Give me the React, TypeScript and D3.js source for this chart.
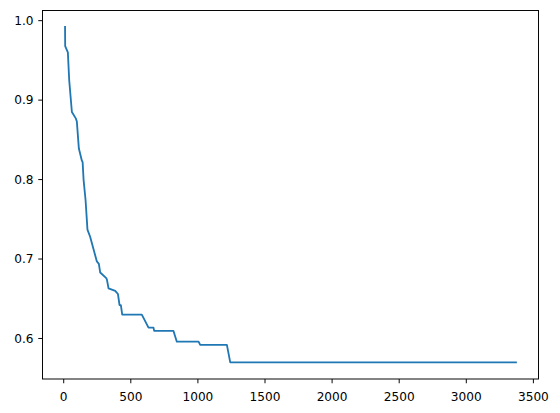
import React from "react";
import * as d3 from "d3";

const xValues = [10, 11, 31, 41, 61, 90, 98, 113, 135, 141, 148, 163, 177, 197, 247, 262, 272, 317, 322, 334, 384, 404, 416, 426, 436, 582, 632, 669, 674, 818, 843, 1005, 1017, 1216, 1241, 3370];
const yValues = [0.992, 0.968, 0.96, 0.925, 0.885, 0.877, 0.873, 0.839, 0.824, 0.822, 0.8, 0.774, 0.737, 0.728, 0.697, 0.694, 0.683, 0.676, 0.674, 0.663, 0.66, 0.656, 0.642, 0.642, 0.63, 0.63, 0.6136, 0.6136, 0.6095, 0.6095, 0.596, 0.596, 0.592, 0.592, 0.57, 0.57];
const xTicks = [0, 500, 1000, 1500, 2000, 2500, 3000, 3500];
const yTicks = [0.6, 0.7, 0.8, 0.9, 1.0];

const W = 560, H = 413;
const L = 42.5, R = 538.5, T = 10.5, B = 379;

export default function App() {
  const x = d3.scaleLinear().domain([-158, 3538]).range([L, R]);
  const y = d3.scaleLinear().domain([0.549, 1.0128]).range([B, T]);
  const pts: [number, number][] = xValues.map((v, i) => [v, yValues[i]]);
  const line = d3.line<[number, number]>().x(d => x(d[0])).y(d => y(d[1]));
  const font = "DejaVu Sans, sans-serif";
  return (
    <svg width={W} height={H} style={{ position: "absolute", left: 0, top: 0 }}>
      <rect width={W} height={H} fill="#fff" />
      <path d={line(pts) || ""} fill="none" stroke="#1f77b4" strokeWidth={1.82} strokeLinejoin="round" strokeLinecap="square" />
      <rect x={L} y={T} width={R - L} height={B - T} fill="none" stroke="#000" strokeWidth={0.97} />
      {xTicks.map(t => (
        <g key={"x" + t}>
          <line x1={x(t)} x2={x(t)} y1={B} y2={B + 4.25} stroke="#000" strokeWidth={0.97} />
          <text x={x(t)} y={400.5} fontSize={12.15} fontFamily={font} textAnchor="middle" fill="#000">{t}</text>
        </g>
      ))}
      {yTicks.map(t => (
        <g key={"y" + t}>
          <line x1={L - 4.25} x2={L} y1={y(t)} y2={y(t)} stroke="#000" strokeWidth={0.97} />
          <text x={33.5} y={y(t)} dy="0.36em" fontSize={12.15} fontFamily={font} textAnchor="end" fill="#000">{t.toFixed(1)}</text>
        </g>
      ))}
    </svg>
  );
}
